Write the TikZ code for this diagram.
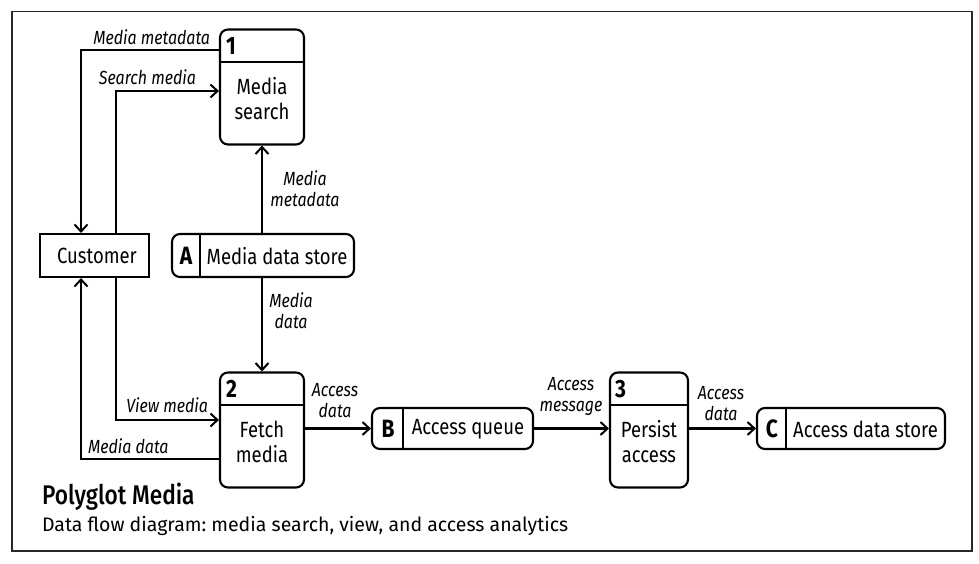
\documentclass[tikz,border=0pt]{standalone}
\usepackage{fontspec}
\setmainfont{Fira Sans}[FakeStretch=0.84]
\newfontfamily\titlefont{Fira Sans Medium}[FakeStretch=0.84]
\newfontfamily\subfont{Fira Sans}
\usetikzlibrary{arrows.meta}
\frenchspacing
\begin{document}
\begin{tikzpicture}[x=1pt,y=-1pt,
  line width=2.1pt,
  arr/.style={-{Straight Barb[length=7pt,width=13pt,line width=2pt]}},
  procbox/.style={draw,rounded corners=8pt,minimum width=84pt,minimum height=115pt,inner sep=0pt},
  storebox/.style={draw,rounded corners=8pt,minimum height=43pt,inner sep=0pt},
  entbox/.style={draw,minimum width=109pt,minimum height=43pt,inner sep=0pt},
  maintext/.style={font=\fontsize{22}{25}\selectfont,align=center,inner sep=0pt},
  numtext/.style={font=\fontsize{25}{26}\selectfont\bfseries,inner sep=0pt},
  lbl/.style={font=\fontsize{19}{21}\selectfont\itshape,align=center,inner sep=0pt}
]
\useasboundingbox (0,0) rectangle (979,564);
\draw[line width=1.2pt,black!85] (12,11.5) rectangle (972,551);

% processes
\node[procbox] (p1) at (262,87) {};
\draw (p1.west |- 0,62) -- (p1.east |- 0,62);
\node[numtext,anchor=west] (n1) at (225,46) {1};
\node[maintext] (t1) at (262,99) {Media\\search};

\node[procbox] (p2) at (262,430) {};
\draw (p2.west |- 0,405) -- (p2.east |- 0,405);
\node[numtext,anchor=west] (n2) at (225,389) {2};
\node[maintext] (t2) at (262,442) {Fetch\\media};

\node[procbox,minimum width=78pt] (p3) at (649,430) {};
\draw (p3.west |- 0,405) -- (p3.east |- 0,405);
\node[numtext,anchor=west] (n3) at (614,389) {3};
\node[maintext] (t3) at (649,442) {Persist\\access};

% customer
\node[entbox] (cust) at (94.5,255.5) {};
\node[maintext] (tcust) at (97,256) {Customer};

% stores
\node[storebox,minimum width=182pt] (A) at (263,255.5) {};
\draw (200,0 |- A.north) -- (200,0 |- A.south);
\node[numtext] (la) at (186,256) {A};
\node[maintext] (ta) at (277,256) {Media data store};

\node[storebox,minimum width=161pt,minimum height=41pt] (B) at (452.5,428.5) {};
\draw (403,0 |- B.north) -- (403,0 |- B.south);
\node[numtext] (lb) at (388,429) {B};
\node[maintext] (tb) at (468,429) {Access queue};

\node[storebox,minimum width=188pt,minimum height=41pt] (C) at (851,428.5) {};
\draw (786,0 |- C.north) -- (786,0 |- C.south);
\node[numtext] (lc) at (772,429) {C};
\node[maintext] (tc) at (865.5,429) {Access data store};

% connectors
\draw[arr] (p1.west |- 0,50) -| (81,0 |- cust.north);
\draw[arr] (116,0 |- cust.north) |- (p1.west |- 0,91);
\draw[arr] (116,0 |- cust.south) |- (p2.west |- 0,420);
\draw[arr] (p2.west |- 0,459) -| (81,0 |- cust.south);
\draw[arr] (p1.south |- A.north) -- (p1.south);
\draw[arr] (p2.north |- A.south) -- (p2.north);
\draw[arr] (p2.east |- B.west) -- (B.west);
\draw[arr] (B.east) -- (p3.west |- B.east);
\draw[arr] (p3.east |- C.west) -- (C.west);

% labels
\node[lbl,anchor=east] (l1) at (211,37) {Media metadata};
\node[lbl,anchor=east] (l2) at (197,77) {Search media};
\node[lbl] (l3) at (305,189) {Media\\metadata};
\node[lbl] (l4) at (291,311) {Media\\data};
\node[lbl,anchor=east] (l5) at (209,405) {View media};
\node[lbl,anchor=west] (l6) at (87,446) {Media data};
\node[lbl] (l7) at (335,401) {Access\\data};
\node[lbl] (l8) at (571,397) {Access\\message};
\node[lbl] (l9) at (721,404) {Access\\data};

% title
\node[font=\fontsize{27}{29}\selectfont\titlefont,anchor=base west,inner sep=0pt] (title) at (41,504) {Polyglot Media};
\node[font=\fontsize{19.5}{22}\selectfont\subfont,anchor=base west,inner sep=0pt] (sub) at (41,531) {Data flow diagram: media search, view, and access analytics};
\end{tikzpicture}
\end{document}
